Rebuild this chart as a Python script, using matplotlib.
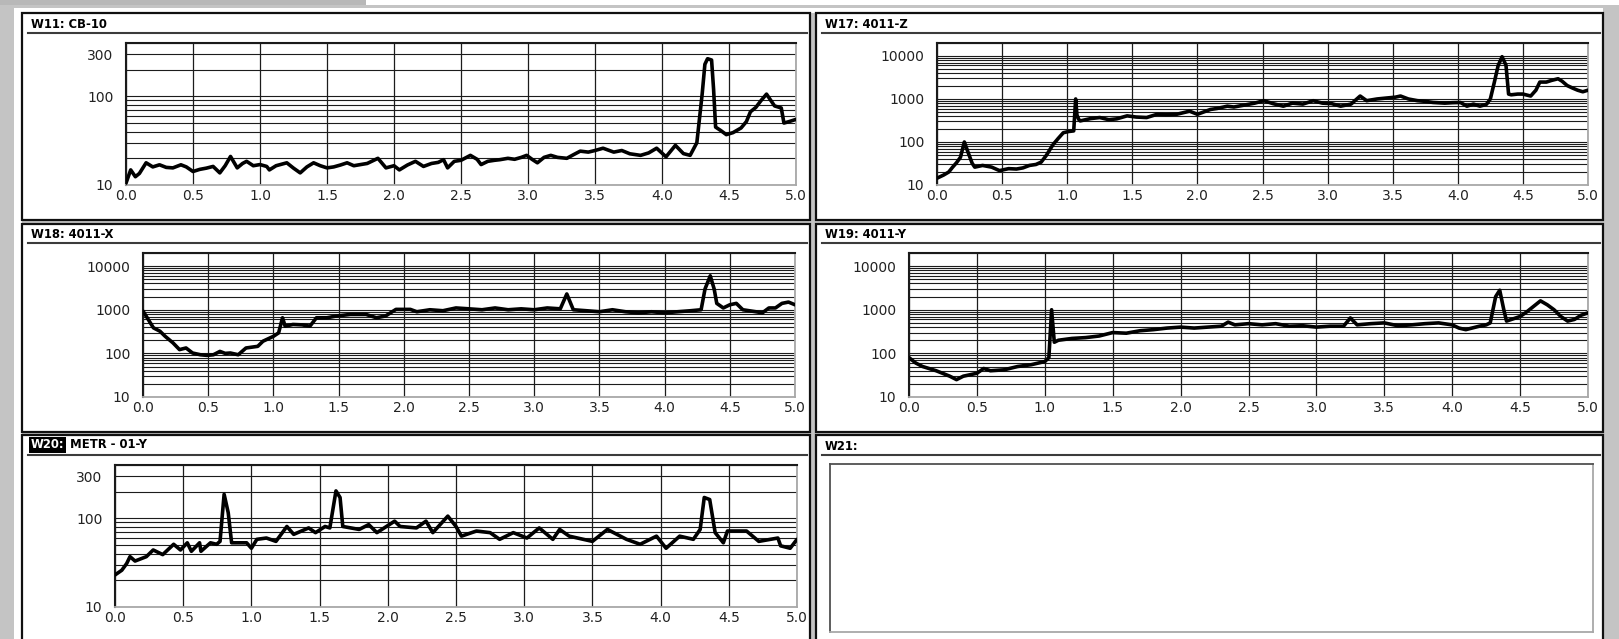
import matplotlib
matplotlib.use("Agg")
import matplotlib.pyplot as plt
from matplotlib.patches import Rectangle
from matplotlib.lines import Line2D
from matplotlib.ticker import FixedLocator, FixedFormatter, LogLocator, NullFormatter

# ---------------- data ----------------
x_ticks = [0.0, 0.5, 1.0, 1.5, 2.0, 2.5, 3.0, 3.5, 4.0, 4.5, 5.0]
x_tick_labels = ["0.0", "0.5", "1.0", "1.5", "2.0", "2.5", "3.0", "3.5", "4.0", "4.5", "5.0"]
y_ticks_small = [10, 100, 300]
y_labels_small = ["10", "100", "300"]
y_ticks_large = [10, 100, 1000, 10000]
y_labels_large = ["10", "100", "1000", "10000"]

titles = ["W11: CB-10", "W17: 4011-Z", "W18: 4011-X", "W19: 4011-Y", "W20:", "METR - 01-Y", "W21:"]

w11_x = [0.00, 0.035, 0.07, 0.10, 0.15, 0.20, 0.25, 0.30, 0.35, 0.41, 0.45, 0.50, 0.55, 0.60, 0.65,
         0.70, 0.74, 0.78, 0.83, 0.87, 0.90, 0.95, 1.00, 1.05, 1.07, 1.12, 1.20, 1.25, 1.30, 1.35,
         1.40, 1.45, 1.50, 1.55, 1.60, 1.65, 1.70, 1.75, 1.80, 1.88, 1.94, 2.00, 2.04, 2.10, 2.16,
         2.22, 2.28, 2.33, 2.37, 2.40, 2.45, 2.50, 2.57, 2.62, 2.65, 2.70, 2.75, 2.79, 2.85, 2.90,
         2.95, 2.99, 3.03, 3.07, 3.12, 3.17, 3.22, 3.29, 3.34, 3.39, 3.45, 3.50, 3.56, 3.64, 3.70,
         3.76, 3.84, 3.90, 3.96, 4.03, 4.10, 4.16, 4.21, 4.26, 4.30, 4.32, 4.34, 4.37, 4.385, 4.40,
         4.44, 4.48, 4.53, 4.59, 4.63, 4.66, 4.70, 4.74, 4.78, 4.84, 4.89, 4.91, 4.95, 5.00]
w11_y = [10.5, 14.8, 12.4, 13.5, 17.8, 16.0, 16.9, 15.8, 15.6, 16.9, 16.0, 14.2, 15.0, 15.5, 16.2,
         13.7, 16.5, 21.0, 15.6, 17.5, 18.5, 16.5, 17.0, 16.2, 14.8, 16.5, 17.8, 15.5, 13.7, 16.0,
         17.8, 16.5, 15.6, 16.0, 16.8, 17.8, 16.5, 17.0, 17.5, 20.0, 15.6, 16.5, 14.8, 16.8, 18.5,
         16.2, 17.5, 18.0, 19.3, 15.6, 18.5, 19.0, 21.6, 19.5, 17.0, 18.5, 19.0, 19.3, 20.0, 19.5,
         20.5, 21.6, 19.5, 17.8, 20.5, 21.6, 20.5, 20.0, 22.0, 24.1, 23.5, 24.5, 26.0, 23.5, 24.5,
         22.5, 21.6, 23.0, 26.0, 20.8, 28.0, 22.6, 21.6, 30.0, 107, 230, 266, 257, 120, 45,
         41, 37, 39, 44, 52, 67, 75, 90, 106, 78, 74, 50, 52, 55]

w17_x = [0.00, 0.05, 0.09, 0.12, 0.15, 0.18, 0.21, 0.24, 0.27, 0.29, 0.35, 0.42, 0.48, 0.55, 0.61,
         0.66, 0.71, 0.76, 0.80, 0.84, 0.89, 0.93, 0.97, 1.01, 1.05, 1.065, 1.075, 1.09, 1.10, 1.18,
         1.25, 1.32, 1.38, 1.46, 1.53, 1.61, 1.69, 1.76, 1.84, 1.94, 2.00, 2.10, 2.15, 2.23, 2.28,
         2.36, 2.44, 2.51, 2.58, 2.66, 2.73, 2.81, 2.89, 2.96, 3.03, 3.10, 3.18, 3.25, 3.30, 3.38,
         3.45, 3.52, 3.56, 3.62, 3.69, 3.75, 3.81, 3.90, 3.96, 4.02, 4.07, 4.12, 4.17, 4.22, 4.25,
         4.28, 4.31, 4.34, 4.37, 4.39, 4.41, 4.46, 4.50, 4.56, 4.60, 4.63, 4.68, 4.72, 4.77, 4.80,
         4.84, 4.88, 4.92, 4.96, 5.00]
w17_y = [14.4, 17.0, 20.0, 26.0, 33.0, 44.0, 100, 56.0, 32.0, 26.0, 28.5, 26.0, 21.6, 24.0, 23.5,
         25.0, 28.5, 30.0, 34.0, 49.0, 86.0, 120, 164, 175, 181, 1000, 420, 330, 309, 350,
         370, 330, 345, 405, 380, 370, 440, 430, 440, 520, 440, 570, 600, 680, 650,
         720, 800, 912, 780, 680, 800, 760, 912, 800, 780, 680, 760, 1170, 912, 1000,
         1050, 1100, 1170, 1000, 912, 880, 830, 800, 820, 830, 680, 760, 680, 750, 1000,
         2400, 6000, 9600, 6100, 1300, 1250, 1300, 1300, 1170, 1600, 2470, 2470, 2700, 2950, 2600,
         2050, 1800, 1600, 1470, 1600]

w18_x = [0.00, 0.04, 0.08, 0.13, 0.17, 0.23, 0.28, 0.33, 0.38, 0.44, 0.49, 0.54, 0.59, 0.63, 0.67,
         0.73, 0.79, 0.88, 0.92, 1.00, 1.04, 1.07, 1.09, 1.15, 1.22, 1.28, 1.33, 1.41, 1.48, 1.59,
         1.71, 1.79, 1.86, 1.94, 2.05, 2.10, 2.20, 2.30, 2.40, 2.50, 2.60, 2.70, 2.80, 2.90, 3.00,
         3.10, 3.20, 3.25, 3.30, 3.40, 3.50, 3.60, 3.70, 3.80, 3.90, 4.00, 4.10, 4.20, 4.28, 4.31,
         4.35, 4.38, 4.40, 4.45, 4.50, 4.55, 4.60, 4.70, 4.75, 4.80, 4.85, 4.90, 4.95, 5.00]
w18_y = [933, 600, 385, 322, 246, 174, 122, 133, 102, 93, 90, 93, 111, 100, 102,
         93, 133, 145, 190, 246, 295, 655, 420, 460, 450, 420, 655, 655, 716, 781,
         781, 655, 720, 1020, 1020, 900, 1000, 950, 1100, 1050, 1000, 1100, 1000, 1050, 1000,
         1100, 1050, 2300, 1000, 950, 900, 1000, 900, 850, 900, 850, 900, 950, 1000, 3000,
         6000, 3000, 1400, 1100, 1300, 1400, 1000, 900, 850, 1100, 1100, 1400, 1500, 1300]

w19_x = [0.00, 0.05, 0.10, 0.20, 0.30, 0.35, 0.40, 0.50, 0.55, 0.60, 0.70, 0.80, 0.90, 1.00, 1.03,
         1.05, 1.07, 1.10, 1.20, 1.30, 1.40, 1.50, 1.60, 1.70, 1.80, 1.90, 2.00, 2.10, 2.20, 2.30,
         2.35, 2.40, 2.50, 2.60, 2.70, 2.80, 2.90, 3.00, 3.10, 3.20, 3.25, 3.30, 3.40, 3.50, 3.60,
         3.70, 3.80, 3.90, 4.00, 4.05, 4.10, 4.20, 4.25, 4.28, 4.32, 4.35, 4.38, 4.40, 4.50, 4.55,
         4.60, 4.65, 4.70, 4.75, 4.80, 4.85, 4.90, 4.95, 5.00]
w19_y = [80, 60, 50, 40, 30, 25, 30, 35, 45, 40, 42, 50, 55, 65, 80,
         1000, 180, 200, 220, 230, 250, 300, 290, 330, 350, 380, 400, 380, 400, 420,
         520, 450, 480, 450, 480, 420, 430, 400, 420, 420, 650, 450, 480, 500, 430,
         450, 480, 500, 450, 380, 350, 420, 450, 500, 2000, 2800, 1000, 550, 700, 900,
         1200, 1600, 1300, 1000, 700, 550, 600, 750, 850]

w20_x = [0.00, 0.05, 0.086, 0.11, 0.147, 0.23, 0.28, 0.35, 0.43, 0.48, 0.53, 0.56, 0.62, 0.63, 0.70,
         0.745, 0.77, 0.80, 0.83, 0.855, 0.965, 1.00, 1.04, 1.11, 1.18, 1.26, 1.31, 1.42, 1.47, 1.54,
         1.575, 1.62, 1.65, 1.67, 1.79, 1.86, 1.92, 1.99, 2.05, 2.09, 2.21, 2.28, 2.33, 2.44, 2.50,
         2.54, 2.65, 2.75, 2.82, 2.92, 3.02, 3.11, 3.21, 3.26, 3.33, 3.50, 3.61, 3.75, 3.85, 3.97,
         4.04, 4.14, 4.24, 4.29, 4.32, 4.36, 4.40, 4.46, 4.49, 4.63, 4.72, 4.86, 4.88, 4.95, 5.00]
w20_y = [23, 26, 31, 37, 33, 37, 44, 39, 51, 44, 53, 42.5, 53, 42.5, 53,
         51, 55, 187, 116, 53, 53, 46, 58, 60, 55, 81, 66, 78, 69, 81,
         78, 204, 172, 81, 75, 85, 69, 81, 93, 81, 78, 93, 69, 106, 81,
         63, 72, 69, 58, 69, 60, 78, 58, 75, 63, 55, 75, 58, 51, 63,
         46, 63, 58, 75, 172, 163, 69, 53, 72, 72, 55, 60, 49, 46, 58]

# ---------------- figure ----------------
W, H = 1619, 639
fig = plt.figure(figsize=(W / 100, H / 100), dpi=100)
fig.patch.set_facecolor("#c4c4c4")
FONT = "DejaVu Sans"


def frect(x0, y0, x1, y1, z=-10, **kw):
    r = Rectangle((x0 / W, 1 - y1 / H), (x1 - x0) / W, (y1 - y0) / H,
                  transform=fig.transFigure, zorder=z, **kw)
    fig.add_artist(r)


def fline(x0, y0, x1, y1, z=-5, **kw):
    fig.add_artist(Line2D([x0 / W, x1 / W], [1 - y0 / H, 1 - y1 / H],
                          transform=fig.transFigure, zorder=z, **kw))


# window area
frect(0, 0, 366, 5, facecolor="#b8b8b8", edgecolor="none", z=-20)
frect(366, 0, W, 5, facecolor="white", edgecolor="none", z=-20)
frect(14, 8, 1603, H + 5, facecolor="white", edgecolor="none", z=-20)
frect(22, 13, 1604, H + 5, facecolor="#c4c4c4", edgecolor="none", z=-19)

panels = [
    (22, 13, 810, 220), (816, 13, 1603, 220),
    (22, 224, 810, 432), (816, 224, 1603, 432),
    (22, 435, 810, H + 6), (816, 435, 1603, H + 6),
]
for (x0, y0, x1, y1) in panels:
    frect(x0, y0, x1, y1, facecolor="white", edgecolor="#101010", linewidth=1.6, z=-15)

title_rows = [(24, 33), (235, 243), (445, 455)]
for r, (ty, sy) in enumerate(title_rows):
    for c, (px0, px1) in enumerate([(22, 810), (816, 1603)]):
        fline(px0 + 6, sy, px1 - 3, sy, color="#3c3c3c", linewidth=1.5)

TFS = 8.4
title_pos = [(31, 24), (825, 24), (31, 235), (825, 235)]
for (tx, ty), t in zip(title_pos, titles[:4]):
    fig.text(tx / W, 1 - ty / H, t, fontsize=TFS, fontweight="bold", family=FONT,
             ha="left", va="center", color="black")
fig.text(31 / W, 1 - 445 / H, titles[4], fontsize=TFS, fontweight="bold", family=FONT,
         ha="left", va="center", color="white",
         bbox=dict(boxstyle="square,pad=0.15", facecolor="black", edgecolor="none"))
fig.text(70 / W, 1 - 445 / H, titles[5], fontsize=TFS, fontweight="bold", family=FONT,
         ha="left", va="center", color="black")
fig.text(825 / W, 1 - 447 / H, titles[6], fontsize=TFS, fontweight="bold", family=FONT,
         ha="left", va="center", color="black")


def make_axes(l, t, r, b, ytop, yticks, ylabels, xs, ys):
    ax = fig.add_axes([l / W, 1 - b / H, (r - l) / W, (b - t) / H])
    ax.set_yscale("log")
    ax.set_xlim(0, 5)
    ax.set_ylim(10, ytop)
    ax.set_xticks(x_ticks)
    ax.set_xticklabels(x_tick_labels)
    ax.yaxis.set_major_locator(FixedLocator(yticks))
    ax.yaxis.set_major_formatter(FixedFormatter(ylabels))
    ax.yaxis.set_minor_locator(LogLocator(base=10, subs=range(2, 10), numticks=30))
    ax.yaxis.set_minor_formatter(NullFormatter())
    ax.grid(True, which="both", axis="y", color="#1c1c1c", linewidth=0.8)
    ax.grid(True, which="major", axis="x", color="#1c1c1c", linewidth=0.9)
    ax.tick_params(which="both", length=0, labelsize=10, labelcolor="#222222")
    ax.tick_params(axis="y", pad=9)
    ax.tick_params(axis="x", pad=3)
    for lab in ax.get_xticklabels() + ax.get_yticklabels():
        lab.set_family(FONT)
    for s in ("top", "left"):
        ax.spines[s].set_color("#1a1a1a")
        ax.spines[s].set_linewidth(1.5)
    for s in ("bottom", "right"):
        ax.spines[s].set_color("#a8a8a8")
        ax.spines[s].set_linewidth(1.3)
    ax.set_axisbelow(True)
    ax.plot(xs, ys, color="black", linewidth=2.6, solid_joinstyle="round",
            solid_capstyle="round", zorder=3)
    return ax


make_axes(126, 43, 796, 185, 400, y_ticks_small, y_labels_small, w11_x, w11_y)
make_axes(937, 43, 1588, 185, 20000, y_ticks_large, y_labels_large, w17_x, w17_y)
make_axes(143, 253, 795, 397, 20000, y_ticks_large, y_labels_large, w18_x, w18_y)
make_axes(909, 253, 1588, 397, 20000, y_ticks_large, y_labels_large, w19_x, w19_y)
make_axes(115, 465, 797, 607, 400, y_ticks_small, y_labels_small, w20_x, w20_y)

# empty W21 box
ax21 = fig.add_axes([830 / W, 1 - 632 / H, (1593 - 830) / W, (632 - 464) / H])
ax21.set_xticks([])
ax21.set_yticks([])
for s in ("top", "left"):
    ax21.spines[s].set_color("#505050")
    ax21.spines[s].set_linewidth(1.3)
for s in ("bottom", "right"):
    ax21.spines[s].set_color("#a8a8a8")
    ax21.spines[s].set_linewidth(1.3)

fig.savefig("out.png", dpi=100, facecolor=fig.get_facecolor())
